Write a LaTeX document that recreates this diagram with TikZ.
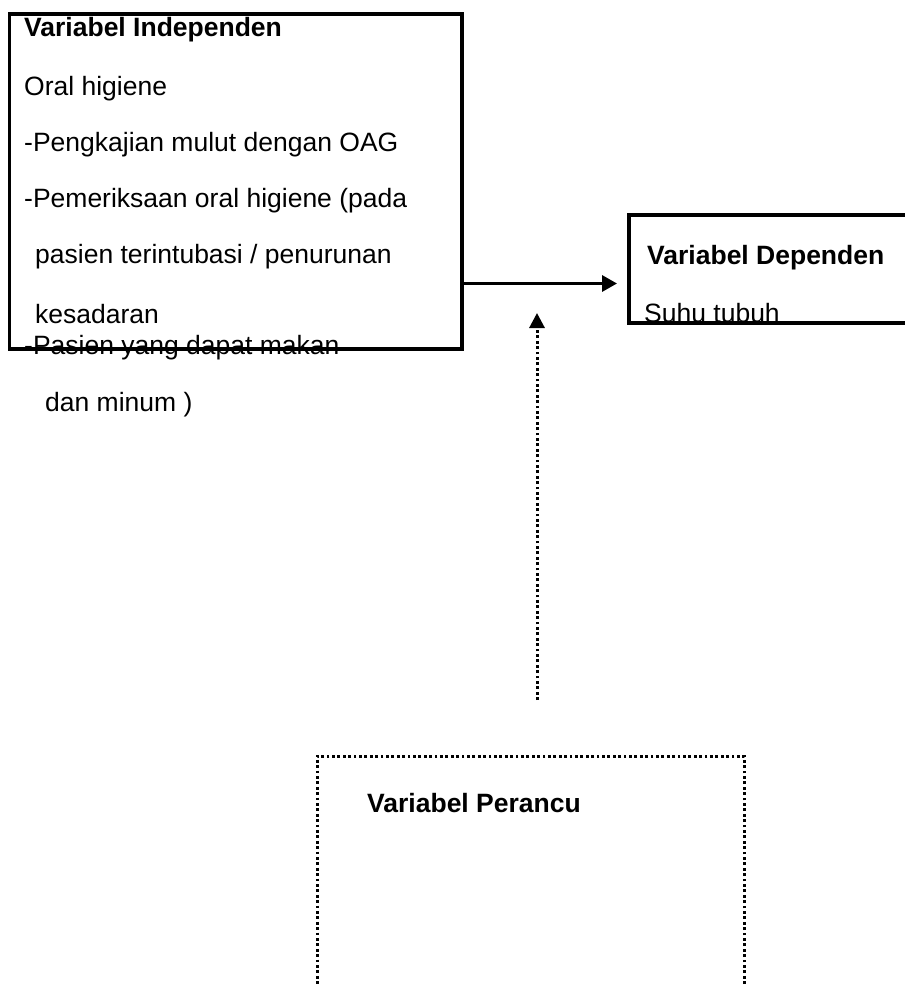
\documentclass[tikz,border=0pt]{standalone}
\usepackage{fontspec}
\setmainfont{Liberation Sans}
\usetikzlibrary{arrows.meta}
\tikzset{
  txt/.style={anchor=base west, inner sep=0pt, font=\fontsize{26.5}{30}\selectfont},
  txtb/.style={anchor=base west, inner sep=0pt, font=\fontsize{26.5}{30}\selectfont\bfseries},
  solidbox/.style={draw, line width=3.2pt, inner sep=0pt},
  dotbox/.style={draw, line width=3pt, dash pattern=on 2.8pt off 2.6pt, inner sep=0pt},
  solidarrow/.style={line width=3.2pt, -{Triangle[length=15pt,width=16pt]}},
  dotarrow/.style={line width=3pt, dash pattern=on 2.8pt off 2.6pt, -{Triangle[length=15pt,width=15pt]}}
}
\begin{document}
\begin{tikzpicture}[x=1pt,y=-1pt]
\useasboundingbox[fill=white] (0,0) rectangle (905,986);
% boxes
\node[solidbox, minimum width=452.5pt, minimum height=335pt] (indep) at (235.75,181.5) {};
\node[solidbox, minimum width=300pt, minimum height=108pt] (dep) at (779,269) {};
\node[dotbox, minimum width=427pt, minimum height=260pt] (conf) at (530.5,886) {};
% texts
\node[txtb] (t1) at (24,36) {Variabel Independen};
\node[txt] (t2) at (24,95) {Oral higiene};
\node[txt] (t3) at (24,151) {-Pengkajian mulut dengan OAG};
\node[txt] (t4) at (24,207) {-Pemeriksaan oral higiene (pada};
\node[txt] (t5) at (35,263) {pasien terintubasi / penurunan};
\node[txt] (t6) at (35,323) {kesadaran};
\node[txt] (t7) at (24,354) {-Pasien yang dapat makan};
\node[txt] (t8) at (45,411) {dan minum )};
\node[txtb] (d1) at (647,264) {Variabel Dependen};
\node[txt] (d2) at (644,322) {Suhu tubuh};
\node[txtb] (c1) at (367,812) {Variabel Perancu};
% connectors
\coordinate (tip1) at (617,283.5);
\draw[solidarrow] (indep.east |- tip1) -- (tip1);
\coordinate (dstart) at (537,700);
\coordinate (dtip) at (537,313);
\draw[dotarrow] (dstart) -- (dtip);
\end{tikzpicture}
\end{document}
